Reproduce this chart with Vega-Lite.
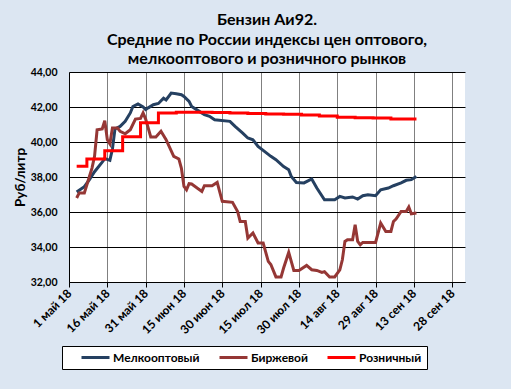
{
  "$schema": "https://vega.github.io/schema/vega-lite/v6.json",
  "width": 396,
  "height": 210,
  "autosize": {"type": "none"},
  "padding": {"left": 69, "top": 72, "right": 46, "bottom": 107},
  "background": "#dce6f2",
  "title": {
    "text": ["Бензин Аи92.", "Средние по России индексы цен оптового,", "мелкооптового и розничного рынков"],
    "anchor": "middle",
    "frame": "group",
    "font": "Lato",
    "fontSize": 16,
    "fontWeight": "bold",
    "color": "#000000",
    "lineHeight": 19.5,
    "offset": 0
  },
  "config": {
    "view": {"stroke": null, "fill": "#ffffff"},
    "font": "Lato"
  },
  "data": {
    "values": [
      {"date": "2018-05-04", "series": "Мелкооптовый", "value": 37.14},
      {"date": "2018-05-07", "series": "Мелкооптовый", "value": 37.45},
      {"date": "2018-05-09", "series": "Мелкооптовый", "value": 37.85},
      {"date": "2018-05-11", "series": "Мелкооптовый", "value": 38.3},
      {"date": "2018-05-14", "series": "Мелкооптовый", "value": 38.85},
      {"date": "2018-05-15", "series": "Мелкооптовый", "value": 39.05},
      {"date": "2018-05-17", "series": "Мелкооптовый", "value": 38.95},
      {"date": "2018-05-18", "series": "Мелкооптовый", "value": 39.6},
      {"date": "2018-05-19", "series": "Мелкооптовый", "value": 40.75},
      {"date": "2018-05-21", "series": "Мелкооптовый", "value": 40.89},
      {"date": "2018-05-23", "series": "Мелкооптовый", "value": 41.18},
      {"date": "2018-05-25", "series": "Мелкооптовый", "value": 41.66},
      {"date": "2018-05-26", "series": "Мелкооптовый", "value": 42.03},
      {"date": "2018-05-28", "series": "Мелкооптовый", "value": 42.17},
      {"date": "2018-05-30", "series": "Мелкооптовый", "value": 42.0},
      {"date": "2018-05-31", "series": "Мелкооптовый", "value": 41.85},
      {"date": "2018-06-01", "series": "Мелкооптовый", "value": 41.95},
      {"date": "2018-06-03", "series": "Мелкооптовый", "value": 42.13},
      {"date": "2018-06-05", "series": "Мелкооптовый", "value": 42.2},
      {"date": "2018-06-07", "series": "Мелкооптовый", "value": 42.5},
      {"date": "2018-06-08", "series": "Мелкооптовый", "value": 42.4},
      {"date": "2018-06-10", "series": "Мелкооптовый", "value": 42.8},
      {"date": "2018-06-12", "series": "Мелкооптовый", "value": 42.76},
      {"date": "2018-06-14", "series": "Мелкооптовый", "value": 42.7},
      {"date": "2018-06-15", "series": "Мелкооптовый", "value": 42.6},
      {"date": "2018-06-17", "series": "Мелкооптовый", "value": 42.32},
      {"date": "2018-06-18", "series": "Мелкооптовый", "value": 42.03},
      {"date": "2018-06-21", "series": "Мелкооптовый", "value": 41.75},
      {"date": "2018-06-23", "series": "Мелкооптовый", "value": 41.56},
      {"date": "2018-06-25", "series": "Мелкооптовый", "value": 41.47},
      {"date": "2018-06-27", "series": "Мелкооптовый", "value": 41.27},
      {"date": "2018-07-03", "series": "Мелкооптовый", "value": 41.18},
      {"date": "2018-07-05", "series": "Мелкооптовый", "value": 40.89},
      {"date": "2018-07-08", "series": "Мелкооптовый", "value": 40.51},
      {"date": "2018-07-10", "series": "Мелкооптовый", "value": 40.23},
      {"date": "2018-07-12", "series": "Мелкооптовый", "value": 40.13},
      {"date": "2018-07-14", "series": "Мелкооптовый", "value": 39.75},
      {"date": "2018-07-16", "series": "Мелкооптовый", "value": 39.52},
      {"date": "2018-07-19", "series": "Мелкооптовый", "value": 39.18},
      {"date": "2018-07-21", "series": "Мелкооптовый", "value": 38.99},
      {"date": "2018-07-24", "series": "Мелкооптовый", "value": 38.6},
      {"date": "2018-07-26", "series": "Мелкооптовый", "value": 38.42},
      {"date": "2018-07-27", "series": "Мелкооптовый", "value": 38.03},
      {"date": "2018-07-29", "series": "Мелкооптовый", "value": 37.69},
      {"date": "2018-08-01", "series": "Мелкооптовый", "value": 37.66},
      {"date": "2018-08-04", "series": "Мелкооптовый", "value": 37.89},
      {"date": "2018-08-06", "series": "Мелкооптовый", "value": 37.37},
      {"date": "2018-08-09", "series": "Мелкооптовый", "value": 36.7},
      {"date": "2018-08-13", "series": "Мелкооптовый", "value": 36.7},
      {"date": "2018-08-15", "series": "Мелкооптовый", "value": 36.89},
      {"date": "2018-08-17", "series": "Мелкооптовый", "value": 36.8},
      {"date": "2018-08-20", "series": "Мелкооптовый", "value": 36.86},
      {"date": "2018-08-22", "series": "Мелкооптовый", "value": 36.74},
      {"date": "2018-08-24", "series": "Мелкооптовый", "value": 36.93},
      {"date": "2018-08-26", "series": "Мелкооптовый", "value": 36.99},
      {"date": "2018-08-29", "series": "Мелкооптовый", "value": 36.93},
      {"date": "2018-08-31", "series": "Мелкооптовый", "value": 37.27},
      {"date": "2018-09-03", "series": "Мелкооптовый", "value": 37.37},
      {"date": "2018-09-05", "series": "Мелкооптовый", "value": 37.5},
      {"date": "2018-09-08", "series": "Мелкооптовый", "value": 37.66},
      {"date": "2018-09-10", "series": "Мелкооптовый", "value": 37.81},
      {"date": "2018-09-12", "series": "Мелкооптовый", "value": 37.85},
      {"date": "2018-09-14", "series": "Мелкооптовый", "value": 38.03},

      {"date": "2018-05-04", "series": "Биржевой", "value": 36.8},
      {"date": "2018-05-05", "series": "Биржевой", "value": 37.09},
      {"date": "2018-05-07", "series": "Биржевой", "value": 37.09},
      {"date": "2018-05-09", "series": "Биржевой", "value": 38.03},
      {"date": "2018-05-10", "series": "Биржевой", "value": 38.51},
      {"date": "2018-05-11", "series": "Биржевой", "value": 39.18},
      {"date": "2018-05-12", "series": "Биржевой", "value": 40.7},
      {"date": "2018-05-14", "series": "Биржевой", "value": 40.75},
      {"date": "2018-05-15", "series": "Биржевой", "value": 41.22},
      {"date": "2018-05-16", "series": "Биржевой", "value": 40.13},
      {"date": "2018-05-17", "series": "Биржевой", "value": 39.9},
      {"date": "2018-05-18", "series": "Биржевой", "value": 40.8},
      {"date": "2018-05-20", "series": "Биржевой", "value": 40.8},
      {"date": "2018-05-21", "series": "Биржевой", "value": 40.61},
      {"date": "2018-05-23", "series": "Биржевой", "value": 40.47},
      {"date": "2018-05-25", "series": "Биржевой", "value": 40.7},
      {"date": "2018-05-27", "series": "Биржевой", "value": 41.31},
      {"date": "2018-05-29", "series": "Биржевой", "value": 41.35},
      {"date": "2018-05-30", "series": "Биржевой", "value": 41.66},
      {"date": "2018-05-31", "series": "Биржевой", "value": 41.31},
      {"date": "2018-06-02", "series": "Биржевой", "value": 40.29},
      {"date": "2018-06-04", "series": "Биржевой", "value": 40.29},
      {"date": "2018-06-06", "series": "Биржевой", "value": 40.61},
      {"date": "2018-06-08", "series": "Биржевой", "value": 40.13},
      {"date": "2018-06-11", "series": "Биржевой", "value": 39.18},
      {"date": "2018-06-13", "series": "Биржевой", "value": 39.03},
      {"date": "2018-06-14", "series": "Биржевой", "value": 38.5},
      {"date": "2018-06-15", "series": "Биржевой", "value": 37.46},
      {"date": "2018-06-16", "series": "Биржевой", "value": 37.27},
      {"date": "2018-06-17", "series": "Биржевой", "value": 37.62},
      {"date": "2018-06-18", "series": "Биржевой", "value": 37.6},
      {"date": "2018-06-22", "series": "Биржевой", "value": 37.18},
      {"date": "2018-06-23", "series": "Биржевой", "value": 37.5},
      {"date": "2018-06-26", "series": "Биржевой", "value": 37.5},
      {"date": "2018-06-28", "series": "Биржевой", "value": 37.69},
      {"date": "2018-06-30", "series": "Биржевой", "value": 36.61},
      {"date": "2018-07-04", "series": "Биржевой", "value": 36.55},
      {"date": "2018-07-06", "series": "Биржевой", "value": 36.03},
      {"date": "2018-07-07", "series": "Биржевой", "value": 35.46},
      {"date": "2018-07-09", "series": "Биржевой", "value": 35.46},
      {"date": "2018-07-10", "series": "Биржевой", "value": 34.51},
      {"date": "2018-07-12", "series": "Биржевой", "value": 34.8},
      {"date": "2018-07-14", "series": "Биржевой", "value": 34.23},
      {"date": "2018-07-16", "series": "Биржевой", "value": 34.23},
      {"date": "2018-07-18", "series": "Биржевой", "value": 33.18},
      {"date": "2018-07-19", "series": "Биржевой", "value": 33.0},
      {"date": "2018-07-21", "series": "Биржевой", "value": 32.29},
      {"date": "2018-07-23", "series": "Биржевой", "value": 32.29},
      {"date": "2018-07-24", "series": "Биржевой", "value": 32.8},
      {"date": "2018-07-26", "series": "Биржевой", "value": 33.69},
      {"date": "2018-07-28", "series": "Биржевой", "value": 32.66},
      {"date": "2018-07-30", "series": "Биржевой", "value": 32.66},
      {"date": "2018-08-02", "series": "Биржевой", "value": 32.95},
      {"date": "2018-08-04", "series": "Биржевой", "value": 32.7},
      {"date": "2018-08-06", "series": "Биржевой", "value": 32.66},
      {"date": "2018-08-08", "series": "Биржевой", "value": 32.55},
      {"date": "2018-08-09", "series": "Биржевой", "value": 32.59},
      {"date": "2018-08-11", "series": "Биржевой", "value": 32.29},
      {"date": "2018-08-13", "series": "Биржевой", "value": 32.29},
      {"date": "2018-08-15", "series": "Биржевой", "value": 32.7},
      {"date": "2018-08-16", "series": "Биржевой", "value": 33.27},
      {"date": "2018-08-17", "series": "Биржевой", "value": 34.32},
      {"date": "2018-08-18", "series": "Биржевой", "value": 34.42},
      {"date": "2018-08-20", "series": "Биржевой", "value": 34.42},
      {"date": "2018-08-21", "series": "Биржевой", "value": 35.27},
      {"date": "2018-08-22", "series": "Биржевой", "value": 34.32},
      {"date": "2018-08-23", "series": "Биржевой", "value": 34.13},
      {"date": "2018-08-24", "series": "Биржевой", "value": 34.26},
      {"date": "2018-08-29", "series": "Биржевой", "value": 34.26},
      {"date": "2018-08-31", "series": "Биржевой", "value": 35.37},
      {"date": "2018-09-02", "series": "Биржевой", "value": 34.89},
      {"date": "2018-09-04", "series": "Биржевой", "value": 34.89},
      {"date": "2018-09-05", "series": "Биржевой", "value": 35.46},
      {"date": "2018-09-06", "series": "Биржевой", "value": 35.6},
      {"date": "2018-09-08", "series": "Биржевой", "value": 36.03},
      {"date": "2018-09-10", "series": "Биржевой", "value": 36.03},
      {"date": "2018-09-11", "series": "Биржевой", "value": 36.29},
      {"date": "2018-09-12", "series": "Биржевой", "value": 35.9},
      {"date": "2018-09-14", "series": "Биржевой", "value": 35.94},

      {"date": "2018-05-04", "series": "Розничный", "value": 38.62},
      {"date": "2018-05-08", "series": "Розничный", "value": 39.03},
      {"date": "2018-05-15", "series": "Розничный", "value": 39.5},
      {"date": "2018-05-22", "series": "Розничный", "value": 40.3},
      {"date": "2018-05-29", "series": "Розничный", "value": 41.1},
      {"date": "2018-06-05", "series": "Розничный", "value": 41.66},
      {"date": "2018-06-12", "series": "Розничный", "value": 41.7},
      {"date": "2018-06-19", "series": "Розничный", "value": 41.7},
      {"date": "2018-06-26", "series": "Розничный", "value": 41.68},
      {"date": "2018-07-03", "series": "Розничный", "value": 41.66},
      {"date": "2018-07-10", "series": "Розничный", "value": 41.63},
      {"date": "2018-07-17", "series": "Розничный", "value": 41.6},
      {"date": "2018-07-24", "series": "Розничный", "value": 41.58},
      {"date": "2018-07-31", "series": "Розничный", "value": 41.55},
      {"date": "2018-08-07", "series": "Розничный", "value": 41.48},
      {"date": "2018-08-14", "series": "Розничный", "value": 41.42},
      {"date": "2018-08-21", "series": "Розничный", "value": 41.38},
      {"date": "2018-08-28", "series": "Розничный", "value": 41.37},
      {"date": "2018-09-04", "series": "Розничный", "value": 41.31},
      {"date": "2018-09-11", "series": "Розничный", "value": 41.31},
      {"date": "2018-09-14", "series": "Розничный", "value": 41.31}
    ]
  },
  "encoding": {
    "x": {
      "field": "date",
      "type": "temporal",
      "scale": {"type": "utc", "domain": [{"year": 2018, "month": 5, "date": 1, "utc": true}, {"year": 2018, "month": 10, "date": 3, "utc": true}], "nice": false},
      "axis": {
        "title": null,
        "values": [
          {"year": 2018, "month": 5, "date": 1, "utc": true},
          {"year": 2018, "month": 5, "date": 16, "utc": true},
          {"year": 2018, "month": 5, "date": 31, "utc": true},
          {"year": 2018, "month": 6, "date": 15, "utc": true},
          {"year": 2018, "month": 6, "date": 30, "utc": true},
          {"year": 2018, "month": 7, "date": 15, "utc": true},
          {"year": 2018, "month": 7, "date": 30, "utc": true},
          {"year": 2018, "month": 8, "date": 14, "utc": true},
          {"year": 2018, "month": 8, "date": 29, "utc": true},
          {"year": 2018, "month": 9, "date": 13, "utc": true},
          {"year": 2018, "month": 9, "date": 28, "utc": true}
        ],
        "labelExpr": "utcdate(datum.value) + ' ' + ['янв','фев','мар','апр','май','июн','июл','авг','сен','окт','ноя','дек'][utcmonth(datum.value)] + ' 18'",
        "labelAngle": -45,
        "labelAlign": "right",
        "labelBaseline": "middle",
        "labelFont": "Lato",
        "labelFontSize": 12,
        "labelFontWeight": "bold",
        "labelColor": "#000000",
        "labelPadding": 4,
        "labelFlush": false,
        "labelOverlap": false,
        "domainColor": "#000000",
        "domainWidth": 1,
        "tickColor": "#000000",
        "tickSize": 5,
        "grid": true,
        "gridColor": "#808080",
        "gridWidth": 1
      }
    },
    "y": {
      "field": "value",
      "type": "quantitative",
      "scale": {"domain": [32, 44], "nice": false, "zero": false},
      "axis": {
        "title": "Руб/литр",
        "titleFont": "Lato",
        "titleFontSize": 13.5,
        "titleFontWeight": "bold",
        "titleColor": "#000000",
        "titlePadding": 3,
        "values": [32, 34, 36, 38, 40, 42, 44],
        "labelExpr": "replace(format(datum.value, '.2f'), '.', ',')",
        "labelFont": "Lato",
        "labelFontSize": 10.5,
        "labelFontWeight": "bold",
        "labelColor": "#000000",
        "labelPadding": 12,
        "ticks": false,
        "domainColor": "#000000",
        "grid": true,
        "gridColor": "#000000",
        "gridWidth": 1
      }
    },
    "color": {
      "field": "series",
      "type": "nominal",
      "scale": {
        "domain": ["Мелкооптовый", "Биржевой", "Розничный"],
        "range": ["#254061", "#953735", "#ff0000"]
      },
      "legend": {
        "title": null,
        "orient": "none",
        "legendX": -7,
        "legendY": 274,
        "direction": "horizontal",
        "columns": 3,
        "gridAlign": "none",
        "fillColor": "#ffffff",
        "strokeColor": "#000000",
        "padding": 5,
        "symbolType": "M-2.8,0H2.8",
        "symbolSize": 100,
        "symbolOffset": 22,
        "symbolStrokeWidth": 3,
        "labelFont": "Lato",
        "labelFontSize": 12,
        "labelFontWeight": "bold",
        "labelColor": "#000000",
        "labelOffset": 11,
        "columnPadding": 5
      }
    }
  },
  "layer": [
    {
      "transform": [{"filter": "datum.series !== 'Розничный'"}],
      "mark": {"type": "line", "strokeWidth": 3, "interpolate": "linear"}
    },
    {
      "transform": [{"filter": "datum.series === 'Розничный'"}],
      "mark": {"type": "line", "strokeWidth": 3, "interpolate": "step-after"}
    }
  ]
}
